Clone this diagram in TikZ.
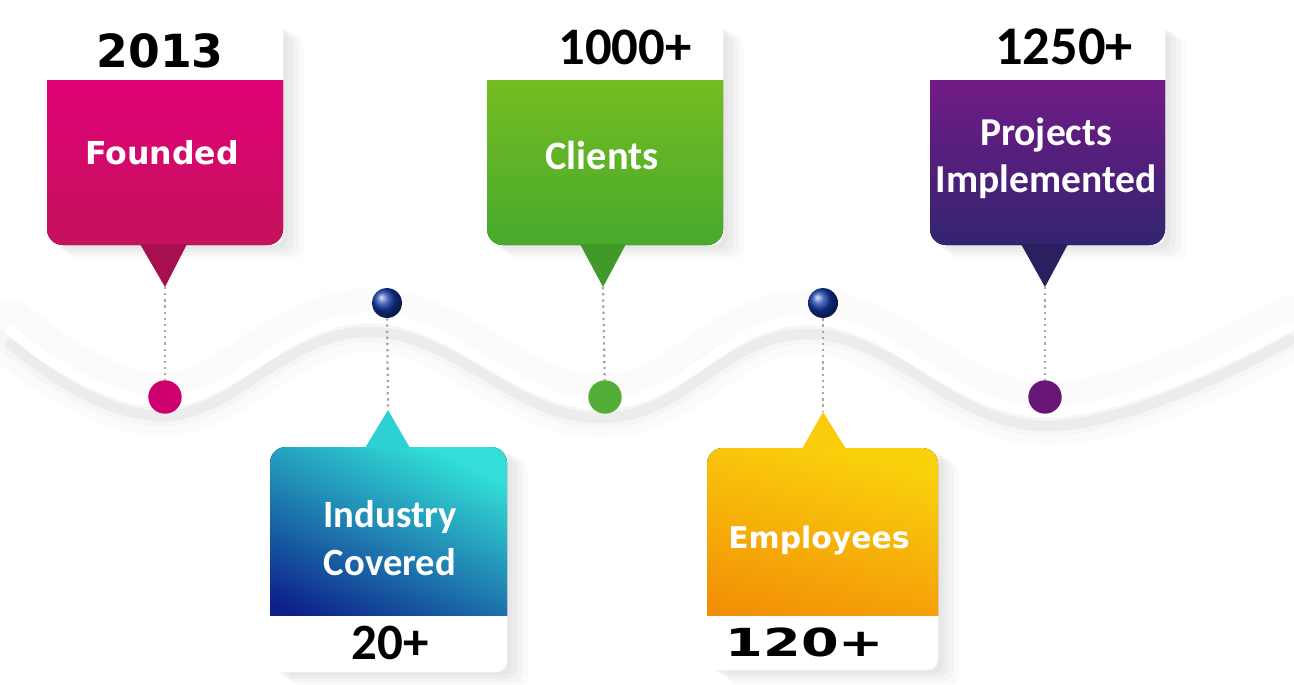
\documentclass[tikz,border=0pt]{standalone}
\usepackage{fontspec}
\usepackage{graphicx}
\newfontfamily\calibri{Carlito}
\newfontfamily\verdana{DejaVu Sans}
\usetikzlibrary{shadows}

\definecolor{magentaTop}{RGB}{228,0,122}
\definecolor{magentaBot}{RGB}{196,18,92}
\definecolor{tealTop}{RGB}{50,222,215}
\definecolor{tealMid}{RGB}{25,135,190}
\definecolor{tealBot}{RGB}{12,32,138}
\definecolor{greenTop}{RGB}{122,190,32}
\definecolor{greenBot}{RGB}{72,170,45}
\definecolor{orangeTop}{RGB}{250,210,12}
\definecolor{orangeBot}{RGB}{242,140,6}
\definecolor{purpleTop}{RGB}{122,26,138}
\definecolor{purpleBot}{RGB}{50,36,112}
\definecolor{navyDot}{RGB}{20,60,170}

\tikzset{
  card/.style={fill=white, rounded corners=6pt,
    drop shadow={shadow xshift=3pt, shadow yshift=-2pt, opacity=0.06},
    drop shadow={shadow xshift=6pt, shadow yshift=-4pt, opacity=0.06},
    drop shadow={shadow xshift=9pt, shadow yshift=-6pt, opacity=0.05},
    drop shadow={shadow xshift=12pt, shadow yshift=-8pt, opacity=0.04}},
  body/.style={rounded corners=9pt},
  pin/.style={gray!70, line width=1.3pt, dash pattern=on 1.3pt off 2.2pt},
  dot/.style={circle, inner sep=0pt, minimum size=19pt},
  bluedot/.style={circle, inner sep=0pt, minimum size=17pt, ball color=navyDot},
  wave/.style={line cap=round},
  lbl/.style={text=white, align=center, font=\calibri\bfseries\fontsize{22}{27}\selectfont},
  lblwide/.style={text=white, align=center, font=\verdana\bfseries\fontsize{18}{22}\selectfont},
  num/.style={text=black, font=\calibri\bfseries\fontsize{30}{34}\selectfont},
  numwide/.style={text=black, font=\verdana\bfseries\fontsize{26}{30}\selectfont}
}

\begin{document}
\begin{tikzpicture}[x=0.02cm, y=-0.02cm]
  \useasboundingbox (0,0) rectangle (1294,684);

  % Drawing the wave
  \draw[wave, line width=36pt, gray!3] plot[smooth, tension=0.7] coordinates
    {(10,332) (165,404) (370,320) (600,406) (810,322) (1045,414) (1290,328)};
  \draw[wave, line width=16pt, gray!7] plot[smooth, tension=0.7] coordinates
    {(10,340) (165,412) (370,328) (600,414) (810,330) (1045,422) (1290,336)};
  \draw[wave, line width=6pt, gray!15] plot[smooth, tension=0.7] coordinates
    {(10,344) (165,416) (370,332) (600,418) (810,334) (1045,426) (1290,340)};
  \draw[wave, line width=6pt, white] plot[smooth, tension=0.7] coordinates
    {(10,330) (165,402) (370,318) (600,404) (810,320) (1045,412) (1290,326)};

  % Drawing card Founded
  \fill[card] (47,23) rectangle (283,245);
  \begin{scope}
    \clip (40,80) rectangle (290,250);
    \fill[body, top color=magentaTop, bottom color=magentaBot] (47,60) rectangle (283,245);
  \end{scope}
  \fill[magentaBot!85!black] (140,244) -- (187,244) -- (165,287) coordinate (tipA) -- cycle;
  \node[numwide] (numA) at (160,51) {2013};
  \node[lblwide] (lblA) at (162,153) {Founded};
  \node[dot, fill=magentaTop!90!black] (dotA) at (165,397) {};
  \draw[pin] (tipA) -- (dotA);

  % Drawing card Industry Covered
  \fill[card] (270,447) rectangle (507,672);
  \begin{scope}
    \clip (260,440) rectangle (515,615);
    \fill[body, top color=tealTop, middle color=tealMid, bottom color=tealBot,
      shading angle=-25] (270,447) rectangle (507,640);
  \end{scope}
  \fill[tealTop!85!tealMid] (365,448) -- (410,448) -- (388,410) coordinate (tipB) -- cycle;
  \node[lbl] (lblB) at (390,538) {Industry\\Covered};
  \node[num, font=\calibri\bfseries\fontsize{29}{33}\selectfont] (numB) at (390,643) {20+};
  \node[bluedot] (dotB) at (387,303) {};
  \draw[pin] (dotB) -- (tipB);

  % Drawing card Clients
  \fill[card] (487,23) rectangle (723,245);
  \begin{scope}
    \clip (480,80) rectangle (730,250);
    \fill[body, top color=greenTop, bottom color=greenBot] (487,60) rectangle (723,245);
  \end{scope}
  \fill[greenBot!90!black] (580,244) -- (626,244) -- (603,287) coordinate (tipC) -- cycle;
  \node[num] (numC) at (625,47) {1000+};
  \node[lbl, font=\calibri\bfseries\fontsize{23}{27}\selectfont] (lblC) at (602,155) {Clients};
  \node[dot, fill=greenBot!95!white] (dotC) at (605,397) {};
  \draw[pin] (tipC) -- (dotC);

  % Drawing card Employees
  \fill[card] (707,448) rectangle (938,670);
  \begin{scope}
    \clip (700,440) rectangle (945,615);
    \fill[body, top color=orangeTop, bottom color=orangeBot,
      shading angle=-15] (707,448) rectangle (938,640);
  \end{scope}
  \fill[orangeTop!90!orangeBot] (802,449) -- (846,449) -- (823,412) coordinate (tipD) -- cycle;
  \node[lblwide, font=\verdana\bfseries\fontsize{17}{21}\selectfont] (lblD) at (819,540) {Employees};
  \node[numwide] (numD) at (805,642) {\scalebox{1.4}[1]{\fontsize{22}{26}\selectfont 120+}};
  \node[bluedot] (dotD) at (823,303) {};
  \draw[pin] (dotD) -- (tipD);

  % Drawing card Projects Implemented
  \fill[card] (930,23) rectangle (1165,245);
  \begin{scope}
    \clip (920,80) rectangle (1175,250);
    \fill[body, top color=purpleTop, bottom color=purpleBot] (930,60) rectangle (1165,245);
  \end{scope}
  \fill[purpleBot!85!black] (1021,244) -- (1068,244) -- (1045,287) coordinate (tipE) -- cycle;
  \node[num, font=\calibri\bfseries\fontsize{31}{35}\selectfont] (numE) at (1064,47) {1250+};
  \node[lbl, font=\calibri\bfseries\fontsize{22.5}{27}\selectfont] (lblE) at (1046,158) {Projects\\Implemented};
  \node[dot, fill=purpleTop!85!black] (dotE) at (1045,397) {};
  \draw[pin] (tipE) -- (dotE);
\end{tikzpicture}
\end{document}
